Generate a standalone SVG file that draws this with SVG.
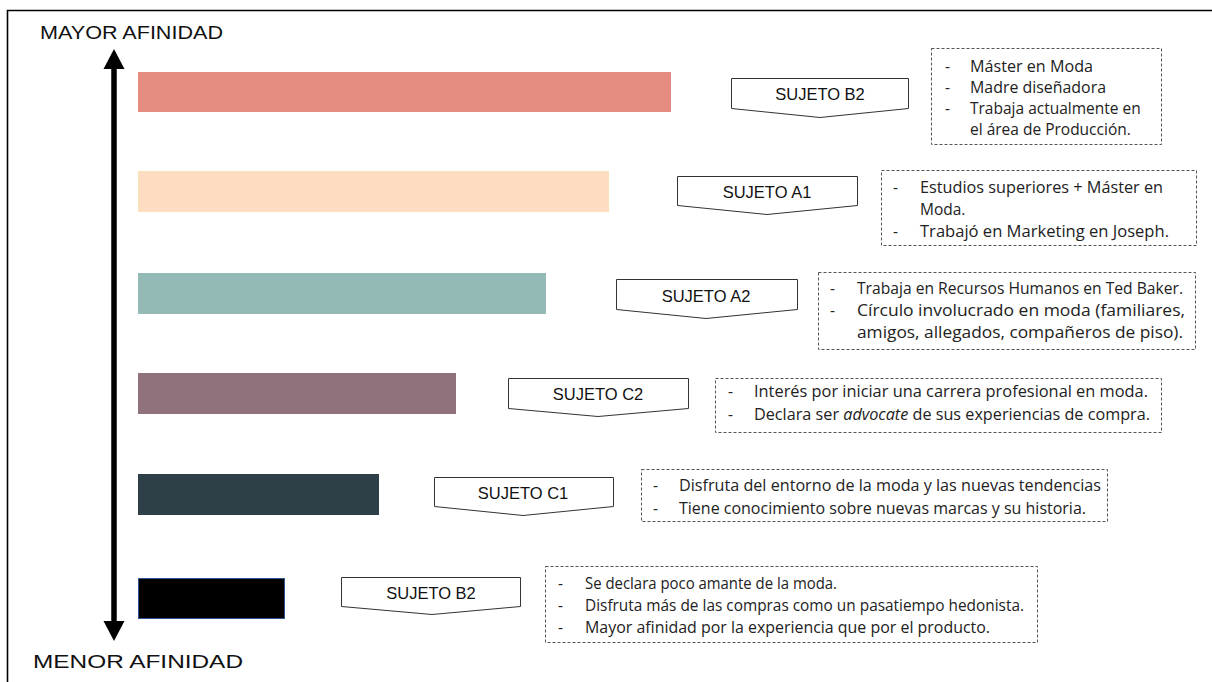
<svg xmlns="http://www.w3.org/2000/svg" width="1212" height="682" viewBox="0 0 1212 682">
<style>
.axis{font-family:"Liberation Sans",Arial,sans-serif;font-size:19px;fill:#111}
.tag{fill:#fff;stroke:#333;stroke-width:1}
.tagt{font-family:"Liberation Sans",Arial,sans-serif;font-size:16.5px;fill:#111;text-anchor:middle}
.note{fill:#fff;stroke:#555;stroke-width:1;stroke-dasharray:3 2}
.nt{font-family:"Open Sans","Liberation Sans",sans-serif;font-size:15.5px;fill:#222}
</style>
<rect width="1212" height="682" fill="#fff"/>
<path d="M7.5,682 V10.5 H1212" fill="none" stroke="#000" stroke-width="1.6"/>
<g id="axis-labels">
<text class="axis" x="40" y="39" textLength="183" lengthAdjust="spacingAndGlyphs">MAYOR AFINIDAD</text>
<text class="axis" x="33" y="668" textLength="210" lengthAdjust="spacingAndGlyphs">MENOR AFINIDAD</text>
</g>
<g id="connectors">
<line x1="114" y1="68" x2="114" y2="622" stroke="#000" stroke-width="5.5"/>
<path d="M103.5,69 L114,49 L124.5,69 z" fill="#000"/>
<path d="M103.5,621 L114,641 L124.5,621 z" fill="#000"/>
</g>
<g id="bars">
<rect x="138" y="72" width="533" height="40" fill="#E38C7F"/>
<rect x="138.5" y="171.5" width="470" height="40" fill="#FDDCC1" stroke="#FBE3B9" stroke-width="1"/>
<rect x="138" y="273" width="408" height="41" fill="#93BAB5"/>
<rect x="138" y="373" width="318" height="41" fill="#8F727B"/>
<rect x="138" y="474" width="241" height="41" fill="#2D3F47"/>
<rect x="138.5" y="578.5" width="146" height="40" fill="#000" stroke="#2F5597" stroke-width="1"/>
</g>
<g id="subject-b2-top">
<path class="tag" d="M731.5,78.5 H908.5 V108.5 L820,117.5 L731.5,108.5 z"/>
<text class="tagt" x="820" y="100">SUJETO B2</text>
</g>
<g id="note-b2-top">
<rect class="note" x="931.5" y="48.5" width="230" height="96"/>
<text class="nt" x="945" y="72">-</text><text class="nt" x="970" y="72" textLength="123" lengthAdjust="spacingAndGlyphs">Máster en Moda</text>
<text class="nt" x="945" y="93">-</text><text class="nt" x="970" y="93" textLength="136" lengthAdjust="spacingAndGlyphs">Madre diseñadora</text>
<text class="nt" x="945" y="114">-</text><text class="nt" x="970" y="114">Trabaja actualmente en</text>
<text class="nt" x="970" y="135">el área de Producción.</text>
</g>
<g id="subject-a1">
<path class="tag" d="M677.5,176.5 H857.5 V205.5 L767,214.5 L677.5,205.5 z"/>
<text class="tagt" x="767" y="198">SUJETO A1</text>
</g>
<g id="note-a1">
<rect class="note" x="881.5" y="170.5" width="315" height="75"/>
<text class="nt" x="893" y="193">-</text><text class="nt" x="920" y="193" textLength="243" lengthAdjust="spacingAndGlyphs">Estudios superiores + Máster en</text>
<text class="nt" x="920" y="215">Moda.</text>
<text class="nt" x="893" y="237">-</text><text class="nt" x="920" y="237" textLength="249" lengthAdjust="spacingAndGlyphs">Trabajó en Marketing en Joseph.</text>
</g>
<g id="subject-a2">
<path class="tag" d="M616.5,279.5 H797.5 V309.5 L706,318.5 L616.5,309.5 z"/>
<text class="tagt" x="706" y="302">SUJETO A2</text>
</g>
<g id="note-a2">
<rect class="note" x="818.5" y="272.5" width="377" height="77"/>
<text class="nt" x="830" y="294">-</text><text class="nt" x="857" y="294" textLength="326" lengthAdjust="spacingAndGlyphs">Trabaja en Recursos Humanos en Ted Baker.</text>
<text class="nt" x="830" y="316">-</text><text class="nt" x="857" y="316" textLength="328" lengthAdjust="spacingAndGlyphs">Círculo involucrado en moda (familiares,</text>
<text class="nt" x="857" y="338" textLength="326" lengthAdjust="spacingAndGlyphs">amigos, allegados, compañeros de piso).</text>
</g>
<g id="subject-c2">
<path class="tag" d="M508.5,378.5 H688.5 V408.5 L598,416.5 L508.5,408.5 z"/>
<text class="tagt" x="598" y="400">SUJETO C2</text>
</g>
<g id="note-c2">
<rect class="note" x="715.5" y="378.5" width="446" height="54"/>
<text class="nt" x="728" y="397">-</text><text class="nt" x="754" y="397" textLength="394" lengthAdjust="spacingAndGlyphs">Interés por iniciar una carrera profesional en moda.</text>
<text class="nt" x="728" y="420">-</text><text class="nt" x="754" y="420" textLength="396" lengthAdjust="spacingAndGlyphs">Declara ser <tspan font-style="italic">advocate</tspan> de sus experiencias de compra.</text>
</g>
<g id="subject-c1">
<path class="tag" d="M434.5,477.5 H613.5 V506.5 L523,515.5 L434.5,506.5 z"/>
<text class="tagt" x="523" y="499">SUJETO C1</text>
</g>
<g id="note-c1">
<rect class="note" x="641.5" y="469.5" width="466" height="52"/>
<text class="nt" x="653" y="491">-</text><text class="nt" x="679" y="491" textLength="422" lengthAdjust="spacingAndGlyphs">Disfruta del entorno de la moda y las nuevas tendencias</text>
<text class="nt" x="653" y="514">-</text><text class="nt" x="679" y="514" textLength="407" lengthAdjust="spacingAndGlyphs">Tiene conocimiento sobre nuevas marcas y su historia.</text>
</g>
<g id="subject-b2-bottom">
<path class="tag" d="M341.5,577.5 H520.5 V606.5 L432,614.5 L341.5,606.5 z"/>
<text class="tagt" x="431" y="599">SUJETO B2</text>
</g>
<g id="note-b2-bottom">
<rect class="note" x="545.5" y="566.5" width="492" height="76"/>
<text class="nt" x="558" y="589">-</text><text class="nt" x="585" y="589" textLength="252" lengthAdjust="spacingAndGlyphs">Se declara poco amante de la moda.</text>
<text class="nt" x="558" y="611">-</text><text class="nt" x="585" y="611" textLength="439" lengthAdjust="spacingAndGlyphs">Disfruta más de las compras como un pasatiempo hedonista.</text>
<text class="nt" x="558" y="633">-</text><text class="nt" x="585" y="633" textLength="405" lengthAdjust="spacingAndGlyphs">Mayor afinidad por la experiencia que por el producto.</text>
</g>
</svg>
